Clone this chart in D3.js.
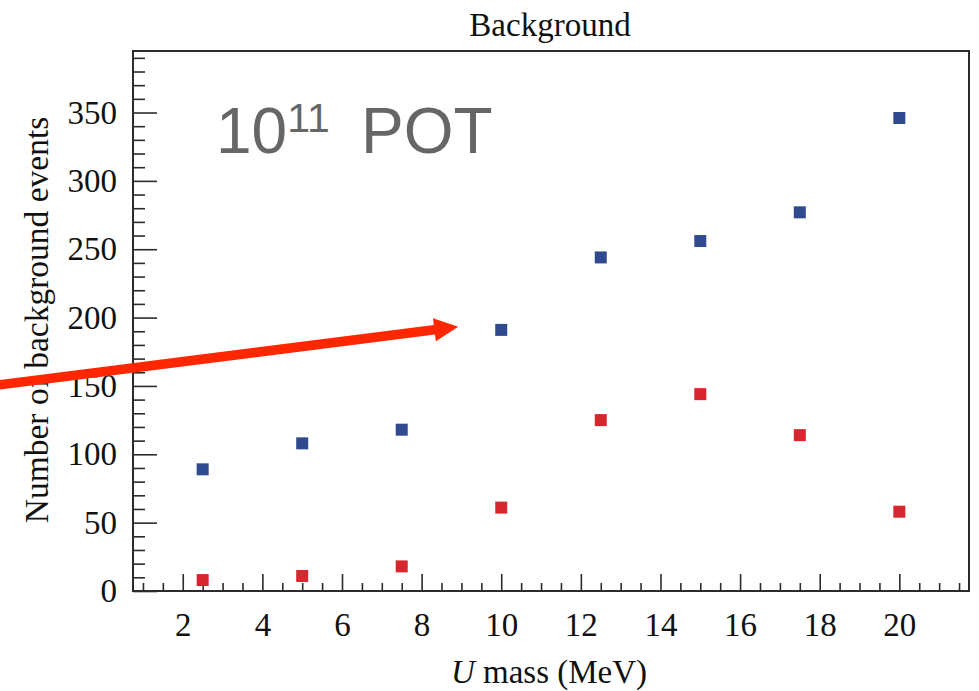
<!DOCTYPE html>
<html>
<head>
<meta charset="utf-8">
<script src="https://cdn.jsdelivr.net/npm/d3@7/dist/d3.min.js"></script>
<style>
  body { margin: 0; background: #fff; }
  svg { display: block; }
</style>
</head>
<body>
<svg id="chart" width="979" height="691"></svg>
<script>
// U-boson mass points (MeV) and expected background counts
const massValues = [2.5, 5, 7.5, 10, 12.5, 15, 17.5, 20];
const bkgBlue = [89, 108, 118, 191, 244, 256, 277, 346];
const bkgRed = [8, 11, 18, 61, 125, 144, 114, 58];

const xMajorTicks = [2, 4, 6, 8, 10, 12, 14, 16, 18, 20];
const yMajorTicks = [0, 50, 100, 150, 200, 250, 300, 350];

const titleText = "Background";
const yLabelText = "Number of background events";

// annotation arrow, in data units (mass, events)
const arrowFrom = [-3.1, 149];
const arrowTo = [8.92, 193.3];

const svg = d3.select("#chart");
const frame = { left: 133, right: 969, top: 51, bottom: 591 };

const x = d3.scaleLinear().domain([0.75, 21.75]).range([frame.left, frame.right]);
const y = d3.scaleLinear().domain([0, 395]).range([frame.bottom, frame.top]);

const serif = "'Liberation Serif', 'Times New Roman', serif";
const axisColor = "#2b2b2b";
const fontSize = "33px";

// minor ticks
const xMinor = d3.range(1, 21.75, 0.5).filter(v => !xMajorTicks.includes(v));
const yMinor = d3.range(0, 395, 10).filter(v => !yMajorTicks.includes(v));

const gx = svg.append("g").attr("transform", `translate(0,${frame.bottom})`);
gx.append("g")
  .call(d3.axisBottom(x).tickValues(xMinor).tickSize(-8).tickFormat(""))
  .call(g => g.select(".domain").remove());
gx.append("g")
  .call(d3.axisBottom(x).tickValues(xMajorTicks).tickSize(-17).tickPadding(22).tickFormat(d3.format("d")))
  .call(g => g.select(".domain").remove());

const gy = svg.append("g").attr("transform", `translate(${frame.left},0)`);
gy.append("g")
  .call(d3.axisLeft(y).tickValues(yMinor).tickSize(-12).tickFormat(""))
  .call(g => g.select(".domain").remove());
gy.append("g")
  .call(d3.axisLeft(y).tickValues(yMajorTicks).tickSize(-24).tickPadding(16).tickFormat(d3.format("d")))
  .call(g => g.select(".domain").remove());

svg.selectAll(".tick line").attr("stroke", axisColor).attr("stroke-width", 1.6);
svg.selectAll(".tick text")
  .attr("fill", "#111")
  .style("font-family", serif)
  .style("font-size", fontSize);

// plot frame
svg.append("rect")
  .attr("x", frame.left).attr("y", frame.top)
  .attr("width", frame.right - frame.left)
  .attr("height", frame.bottom - frame.top)
  .attr("fill", "none")
  .attr("stroke", axisColor)
  .attr("stroke-width", 2);

// markers
const size = 12;
const series = [
  { values: bkgRed, color: "#d8262f" },
  { values: bkgBlue, color: "#2f4a8e" }
];
series.forEach(s => {
  svg.append("g").selectAll("rect")
    .data(massValues.map((m, i) => [m, s.values[i]]))
    .join("rect")
    .attr("x", d => x(d[0]) - size / 2)
    .attr("y", d => y(d[1]) - size / 2)
    .attr("width", size)
    .attr("height", size)
    .attr("fill", s.color);
});

// title
svg.append("text")
  .attr("x", 550)
  .attr("y", 36)
  .attr("text-anchor", "middle")
  .style("font-family", serif)
  .style("font-size", fontSize)
  .attr("fill", "#111")
  .text(titleText);

// x axis label with italic U
const xl = svg.append("text")
  .attr("x", 549)
  .attr("y", 683)
  .attr("text-anchor", "middle")
  .style("font-family", serif)
  .style("font-size", fontSize)
  .attr("fill", "#111");
xl.append("tspan").style("font-style", "italic").text("U");
xl.append("tspan").text(" mass (MeV)");

// y axis label
svg.append("text")
  .attr("transform", "translate(48,320) rotate(-90)")
  .attr("text-anchor", "middle")
  .style("font-family", serif)
  .style("font-size", "33.5px")
  .attr("fill", "#111")
  .text(yLabelText);

// exposure label
const pot = svg.append("text")
  .attr("x", 216)
  .attr("y", 153)
  .style("font-family", "'Liberation Sans', Arial, sans-serif")
  .style("font-size", "64px")
  .attr("fill", "#666");
pot.append("tspan").text("10");
pot.append("tspan").attr("dy", -21).style("font-size", "41px").text("11");
pot.append("tspan").attr("x", 361).attr("dy", 21).text("POT");

// red annotation arrow
const ax0 = x(arrowFrom[0]), ay0 = y(arrowFrom[1]);
const ax1 = x(arrowTo[0]), ay1 = y(arrowTo[1]);
const ang = Math.atan2(ay1 - ay0, ax1 - ax0);
const headLen = 24, headHalf = 11.5;
const bx = ax1 - headLen * Math.cos(ang), by = ay1 - headLen * Math.sin(ang);
svg.append("line")
  .attr("x1", ax0).attr("y1", ay0)
  .attr("x2", bx + 2 * Math.cos(ang)).attr("y2", by + 2 * Math.sin(ang))
  .attr("stroke", "#ff2600")
  .attr("stroke-width", 9.5);
svg.append("path")
  .attr("d", d3.line()([
    [ax1, ay1],
    [bx - headHalf * Math.sin(ang), by + headHalf * Math.cos(ang)],
    [bx + headHalf * Math.sin(ang), by - headHalf * Math.cos(ang)]
  ]) + "Z")
  .attr("fill", "#ff2600");
</script>
</body>
</html>
